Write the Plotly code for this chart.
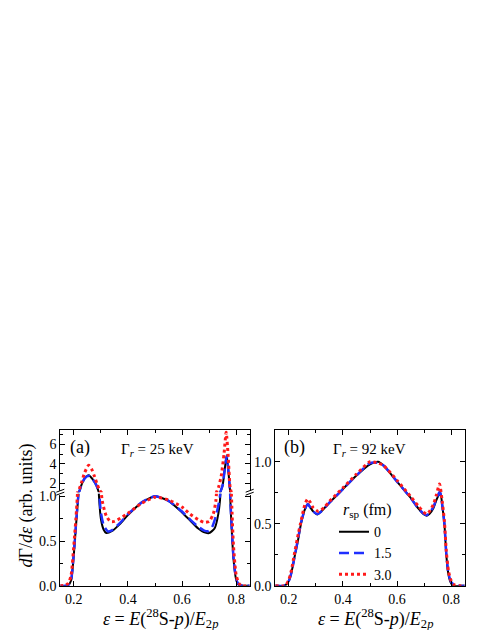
import plotly.graph_objects as go

# ---------------- data ----------------
# Panel (a): Gamma_r = 25 keV
xa_black = [0.15, 0.17, 0.18, 0.19, 0.20, 0.21, 0.22, 0.228, 0.24, 0.255, 0.27, 0.283, 0.293, 0.30, 0.31, 0.32,
            0.34, 0.37, 0.40, 0.45, 0.50, 0.55, 0.60, 0.63, 0.66, 0.68, 0.70, 0.72, 0.73, 0.74, 0.75, 0.758,
            0.765, 0.772, 0.778, 0.785, 0.79, 0.80, 0.81, 0.85]
ya_black = [0, 0, 0.01, 0.06, 0.35, 0.75, 1.15, 1.8, 2.5, 2.83, 2.4, 1.8, 1.0, 0.75, 0.63, 0.59,
            0.61, 0.69, 0.79, 0.93, 1.0, 0.95, 0.82, 0.73, 0.64, 0.60, 0.59, 0.64, 0.74, 0.95, 1.8, 3.5,
            4.88, 3.0, 1.0, 0.55, 0.3, 0.07, 0.01, 0]

xa_blue = [0.15, 0.17, 0.18, 0.19, 0.20, 0.21, 0.22, 0.228, 0.24, 0.255, 0.27, 0.283, 0.295, 0.30, 0.31, 0.325,
           0.34, 0.37, 0.40, 0.45, 0.50, 0.55, 0.60, 0.63, 0.66, 0.68, 0.695, 0.71, 0.725, 0.74, 0.75, 0.758,
           0.765, 0.772, 0.778, 0.785, 0.79, 0.80, 0.81, 0.85]
ya_blue = [0, 0, 0.01, 0.07, 0.37, 0.77, 1.15, 1.8, 2.5, 2.78, 2.4, 1.8, 1.0, 0.82, 0.68, 0.61,
           0.62, 0.70, 0.80, 0.93, 1.0, 0.95, 0.83, 0.74, 0.66, 0.62, 0.61, 0.65, 0.78, 1.0, 1.8, 3.5,
           4.8, 3.0, 1.0, 0.58, 0.32, 0.08, 0.015, 0]

xa_red = [0.15, 0.17, 0.18, 0.19, 0.20, 0.21, 0.22, 0.23, 0.24, 0.255, 0.265, 0.275, 0.285, 0.295, 0.305, 0.32,
          0.335, 0.35, 0.38, 0.40, 0.45, 0.50, 0.55, 0.60, 0.63, 0.66, 0.68, 0.70, 0.715, 0.725, 0.735, 0.745,
          0.755, 0.763, 0.77, 0.778, 0.785, 0.79, 0.80, 0.81, 0.82, 0.85]
ya_red = [0, 0.01, 0.03, 0.12, 0.45, 0.85, 1.4, 2.2, 3.1, 3.85, 3.5, 2.8, 2.0, 1.3, 0.95, 0.78,
          0.72, 0.72, 0.77, 0.81, 0.92, 0.99, 0.96, 0.88, 0.80, 0.74, 0.71, 0.72, 0.80, 0.95, 1.6, 2.8,
          5.0, 7.25, 5.0, 1.5, 0.8, 0.45, 0.12, 0.03, 0.0, 0]

# Panel (b): Gamma_r = 92 keV
xb_black = [0.15, 0.18, 0.19, 0.20, 0.21, 0.22, 0.235, 0.245, 0.26, 0.27, 0.28, 0.29, 0.305, 0.32, 0.35, 0.40,
            0.45, 0.50, 0.53, 0.55, 0.60, 0.65, 0.68, 0.70, 0.71, 0.72, 0.735, 0.745, 0.76, 0.768, 0.775,
            0.782, 0.79, 0.80, 0.81, 0.83, 0.85]
yb_black = [0, 0, 0.01, 0.04, 0.11, 0.22, 0.38, 0.5, 0.62, 0.66, 0.63, 0.60, 0.575, 0.60, 0.67, 0.78,
            0.89, 0.98, 1.0, 0.97, 0.84, 0.71, 0.62, 0.575, 0.565, 0.58, 0.63, 0.69, 0.75, 0.63, 0.5,
            0.25, 0.09, 0.02, 0.0, 0, 0]

xb_blue = [0.15, 0.18, 0.19, 0.20, 0.21, 0.22, 0.235, 0.245, 0.26, 0.27, 0.28, 0.29, 0.305, 0.32, 0.35, 0.40,
           0.45, 0.50, 0.53, 0.55, 0.60, 0.65, 0.68, 0.70, 0.71, 0.72, 0.735, 0.745, 0.758, 0.767, 0.775,
           0.782, 0.79, 0.80, 0.81, 0.83, 0.85]
yb_blue = [0, 0, 0.01, 0.04, 0.11, 0.22, 0.39, 0.51, 0.62, 0.66, 0.63, 0.60, 0.58, 0.60, 0.67, 0.78,
           0.89, 0.99, 0.99, 0.97, 0.84, 0.71, 0.62, 0.58, 0.57, 0.59, 0.64, 0.70, 0.76, 0.65, 0.5,
           0.26, 0.1, 0.03, 0.01, 0, 0]

xb_red = [0.15, 0.18, 0.19, 0.20, 0.21, 0.22, 0.235, 0.243, 0.26, 0.27, 0.28, 0.29, 0.31, 0.33, 0.35, 0.40,
          0.45, 0.50, 0.53, 0.55, 0.60, 0.65, 0.68, 0.70, 0.71, 0.72, 0.735, 0.745, 0.757, 0.767, 0.775,
          0.782, 0.79, 0.80, 0.81, 0.83, 0.85]
yb_red = [0, 0, 0.01, 0.05, 0.13, 0.25, 0.42, 0.5, 0.66, 0.70, 0.67, 0.63, 0.60, 0.63, 0.68, 0.79,
          0.90, 1.0, 0.99, 0.97, 0.85, 0.72, 0.64, 0.59, 0.58, 0.60, 0.66, 0.73, 0.82, 0.68, 0.52,
          0.28, 0.12, 0.04, 0.01, 0, 0]

series_names = ["0", "1.5", "3.0"]
x_ticks = [0.2, 0.4, 0.6, 0.8]
x_ticktext = ["0.2", "0.4", "0.6", "0.8"]
y_ticks_lower = [0.0, 0.5, 1.0]
y_ticktext_lower = ["0.0", "0.5", "1.0"]
y_ticks_upper = [2, 4, 6]
y_ticktext_upper = ["2", "4", "6"]

# ---------------- layout helpers ----------------
W, H = 487, 630
FONT = "Liberation Serif"
UPPER_MIN = 1.08


def px(x):
    return x / W


def py(y):
    return (H - y) / H


def upper_part(ys):
    """Keep only the points that take part in the segments above the axis break."""
    out = []
    for i, v in enumerate(ys):
        nb = ys[max(i - 1, 0):i + 2]
        out.append(v if max(nb) >= UPPER_MIN else None)
    return out


styles = [
    dict(color="black", width=2, dash="solid"),
    dict(color="#1f2fff", width=2.5, dash="10px,5px"),
    dict(color="#ff1a1a", width=3, dash="3px,3px"),
]

fig = go.Figure()

panel_a = [(xa_black, ya_black), (xa_blue, ya_blue), (xa_red, ya_red)]
panel_b = [(xb_black, yb_black), (xb_blue, yb_blue), (xb_red, yb_red)]

for (xs, ys), st, nm in zip(panel_a, styles, series_names):
    for xax, yax, yy in (("x", "y", ys), ("x3", "y3", upper_part(ys))):
        fig.add_trace(go.Scatter(x=xs, y=yy, mode="lines", xaxis=xax, yaxis=yax, connectgaps=False,
                                 line=dict(color=st["color"], width=st["width"], dash=st["dash"],
                                           shape="spline", smoothing=0.6),
                                 name=nm, showlegend=False, hoverinfo="skip"))

for (xs, ys), st, nm in zip(panel_b, styles, series_names):
    fig.add_trace(go.Scatter(x=xs, y=ys, mode="lines", xaxis="x2", yaxis="y2",
                             line=dict(color=st["color"], width=st["width"], dash=st["dash"],
                                       shape="spline", smoothing=0.6),
                             name=nm, showlegend=True))

tickfont = dict(family=FONT, size=14, color="black")
common = dict(showline=True, linecolor="black", linewidth=1, ticks="inside", ticklen=5,
              tickcolor="black", tickwidth=1, showgrid=False, zeroline=False, tickfont=tickfont)

xa_dom = [px(52.3), px(241.7)]
xb_dom = [px(267.3), px(456.7)]
y_bottom = py(585)
y_top = py(426)

xminor = dict(ticks="inside", ticklen=3, dtick=0.1, tick0=0, tickcolor="black", showgrid=False)

fig.update_layout(
    width=W, height=H,
    margin=dict(l=0, r=0, t=0, b=0),
    paper_bgcolor="white", plot_bgcolor="white",
    font=dict(family=FONT, color="black"),
    xaxis=dict(domain=xa_dom, range=[0.15, 0.85], anchor="y", tickvals=x_ticks, ticktext=x_ticktext,
               mirror=False, minor=xminor, **common),
    xaxis3=dict(domain=xa_dom, range=[0.15, 0.85], anchor="y3", side="top", tickvals=x_ticks,
                showticklabels=False, mirror=False, minor=xminor, **common),
    yaxis=dict(domain=[y_bottom, py(491)], range=[0, 1.03], anchor="x", tickvals=y_ticks_lower,
               ticktext=y_ticktext_lower, mirror="ticks",
               minor=dict(ticks="inside", ticklen=3, dtick=0.25, tick0=0, tickcolor="black"), **common),
    yaxis3=dict(domain=[py(489.5), y_top], range=[UPPER_MIN, 7.5], anchor="x3", tickvals=y_ticks_upper,
                ticktext=y_ticktext_upper, mirror="ticks",
                minor=dict(ticks="inside", ticklen=3, dtick=1, tick0=1, tickcolor="black"), **common),
    xaxis2=dict(domain=xb_dom, range=[0.15, 0.85], anchor="y2", tickvals=x_ticks, ticktext=x_ticktext,
                mirror="ticks", minor=xminor, **common),
    yaxis2=dict(domain=[y_bottom, y_top], range=[0, 1.257], anchor="x2", tickvals=y_ticks_lower,
                ticktext=y_ticktext_lower, mirror="ticks",
                minor=dict(ticks="inside", ticklen=3, dtick=0.25, tick0=0, tickcolor="black"), **common),
    legend=dict(x=px(326), y=py(514), xanchor="left", yanchor="top", bgcolor="rgba(0,0,0,0)",
                font=dict(family=FONT, size=14, color="black"),
                tracegroupgap=0, itemwidth=30),
)

annos = [
    dict(text="<i>d</i>Γ/<i>dε</i> (arb. units)", x=px(18), y=py(503), textangle=-90, size=18),
    dict(text="<i>ε</i> = <i>E</i>(<sup>28</sup>S-<i>p</i>)/<i>E</i><sub>2<i>p</i></sub>",
         x=px(152), y=py(618), size=18),
    dict(text="<i>ε</i> = <i>E</i>(<sup>28</sup>S-<i>p</i>)/<i>E</i><sub>2<i>p</i></sub>",
         x=px(367), y=py(618), size=18),
    dict(text="(a)", x=px(71.5), y=py(444), size=18),
    dict(text="(b)", x=px(286.5), y=py(444), size=18),
    dict(text="Γ<sub><i>r</i></sub> = 25 keV", x=px(111), y=py(446), xanchor="left", size=15),
    dict(text="Γ<sub><i>r</i></sub> = 92 keV", x=px(323), y=py(446), xanchor="left", size=15),
    dict(text="<i>r</i><sub>sp</sub> (fm)", x=px(333), y=py(508), xanchor="left", size=16),
]
for a in annos:
    a.setdefault("xanchor", "center")
    size = a.pop("size")
    fig.add_annotation(xref="paper", yref="paper", showarrow=False, yanchor="middle",
                       font=dict(family=FONT, color="black", size=size), **a)

# axis-break marks
for xb in (52.3, 241.7):
    fig.add_shape(type="rect", xref="paper", yref="paper", x0=px(xb - 1.5), x1=px(xb + 1.5),
                  y0=py(492.5), y1=py(488), fillcolor="white", line=dict(width=0))
    for dy in (0, 3):
        fig.add_shape(type="line", xref="paper", yref="paper",
                      x0=px(xb - 4), y0=py(489.5 + dy), x1=px(xb + 4), y1=py(486.5 + dy),
                      line=dict(color="black", width=1))

fig.write_html("out.html")
